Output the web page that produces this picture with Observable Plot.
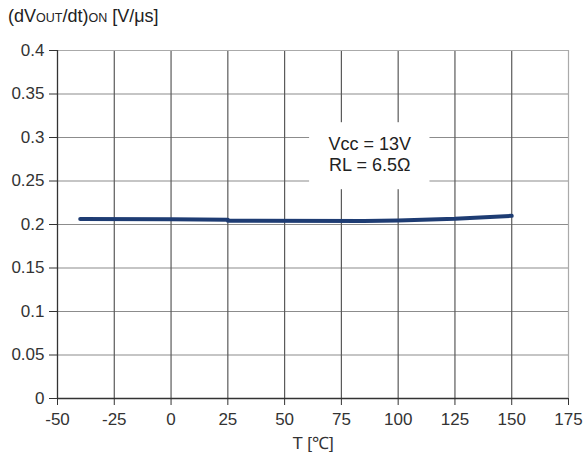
<!DOCTYPE html>
<html>
<head>
<meta charset="utf-8">
<script src="https://cdn.jsdelivr.net/npm/d3@7"></script>
<script src="https://cdn.jsdelivr.net/npm/@observablehq/plot@0.6"></script>
<style>
  html, body { margin: 0; padding: 0; background: #fff; }
  #wrap { position: relative; width: 584px; height: 462px; font-family: "Liberation Sans", Arial, sans-serif; }
  #title { position: absolute; left: 8px; top: 6px; font-size: 18px; color: #222; white-space: nowrap; }
  #title .sc { font-size: 12.5px; }
</style>
</head>
<body>
<div id="wrap">
  <div id="chart"></div>
  <div id="title">(dV<span class="sc">OUT</span>/dt)<span class="sc">ON</span> [V/μs]</div>
</div>
<script>
const temps = [-40, 0, 25, 25, 85, 100, 125, 150];
const slewRates = [0.2062, 0.2059, 0.2055, 0.2043, 0.2040, 0.2047, 0.2065, 0.2100];
const xTicks = [-50, -25, 0, 25, 50, 75, 100, 125, 150, 175];
const yTicks = [0, 0.05, 0.1, 0.15, 0.2, 0.25, 0.3, 0.35, 0.4];
const yTickLabels = ["0", "0.05", "0.1", "0.15", "0.2", "0.25", "0.3", "0.35", "0.4"];
const xLabel = "T [℃]";
const noteLines = ["Vcc = 13V", "RL = 6.5Ω"];
const noteAnchor = [{x1: 61, x2: 114, y1: 0.24, y2: 0.317, x: 87.5, y: 0.281}];

const data = temps.map((t, i) => ({t, v: slewRates[i]}));

const chart = Plot.plot({
  width: 584,
  height: 462,
  marginLeft: 57,
  marginRight: 16,
  marginTop: 50,
  marginBottom: 64,
  style: {fontFamily: "'Liberation Sans', Arial, sans-serif", fontSize: "17px", color: "#333", background: "#fff"},
  x: {domain: [-50, 175], ticks: xTicks, label: null},
  y: {domain: [0, 0.4], ticks: yTicks, label: null},
  marks: [
    Plot.ruleY(yTicks.filter(d => d > 0 && d < 0.4), {stroke: "#8c8c8c", strokeWidth: 1.2}),
    Plot.ruleX(xTicks.filter(d => d > -50 && d < 175), {stroke: "#5a5a5a", strokeWidth: 1.2}),
    Plot.ruleY([0.4], {stroke: "#aaa", strokeWidth: 1.2}),
    Plot.ruleX([175], {stroke: "#aaa", strokeWidth: 1.2}),
    Plot.rect(noteAnchor, {x1: "x1", x2: "x2", y1: "y1", y2: "y2", fill: "#fff"}),
    Plot.text(noteAnchor, {x: "x", y: "y", text: () => noteLines.join("\n"), fontSize: 18, fill: "#222", lineHeight: 1.17}),
    Plot.line(data, {x: "t", y: "v", stroke: "#1e3c73", strokeWidth: 4, strokeLinejoin: "round"}),
    Plot.ruleX([-50], {stroke: "#333", strokeWidth: 1.3}),
    Plot.ruleY([0], {stroke: "#333", strokeWidth: 1.3}),
    Plot.axisX({ticks: xTicks, tickSize: 7, tickPadding: 7, stroke: "#333", fill: "#333", fontSize: 17, tickFormat: d => String(d)}),
    Plot.axisY({ticks: yTicks, tickSize: 8, tickPadding: 5, stroke: "#333", fill: "#333", fontSize: 17, tickFormat: d => yTickLabels[yTicks.indexOf(d)]}),
    Plot.text([xLabel], {frameAnchor: "bottom", dy: 50, fontSize: 17, fill: "#333"})
  ]
});
document.getElementById("chart").appendChild(chart);
</script>
</body>
</html>
